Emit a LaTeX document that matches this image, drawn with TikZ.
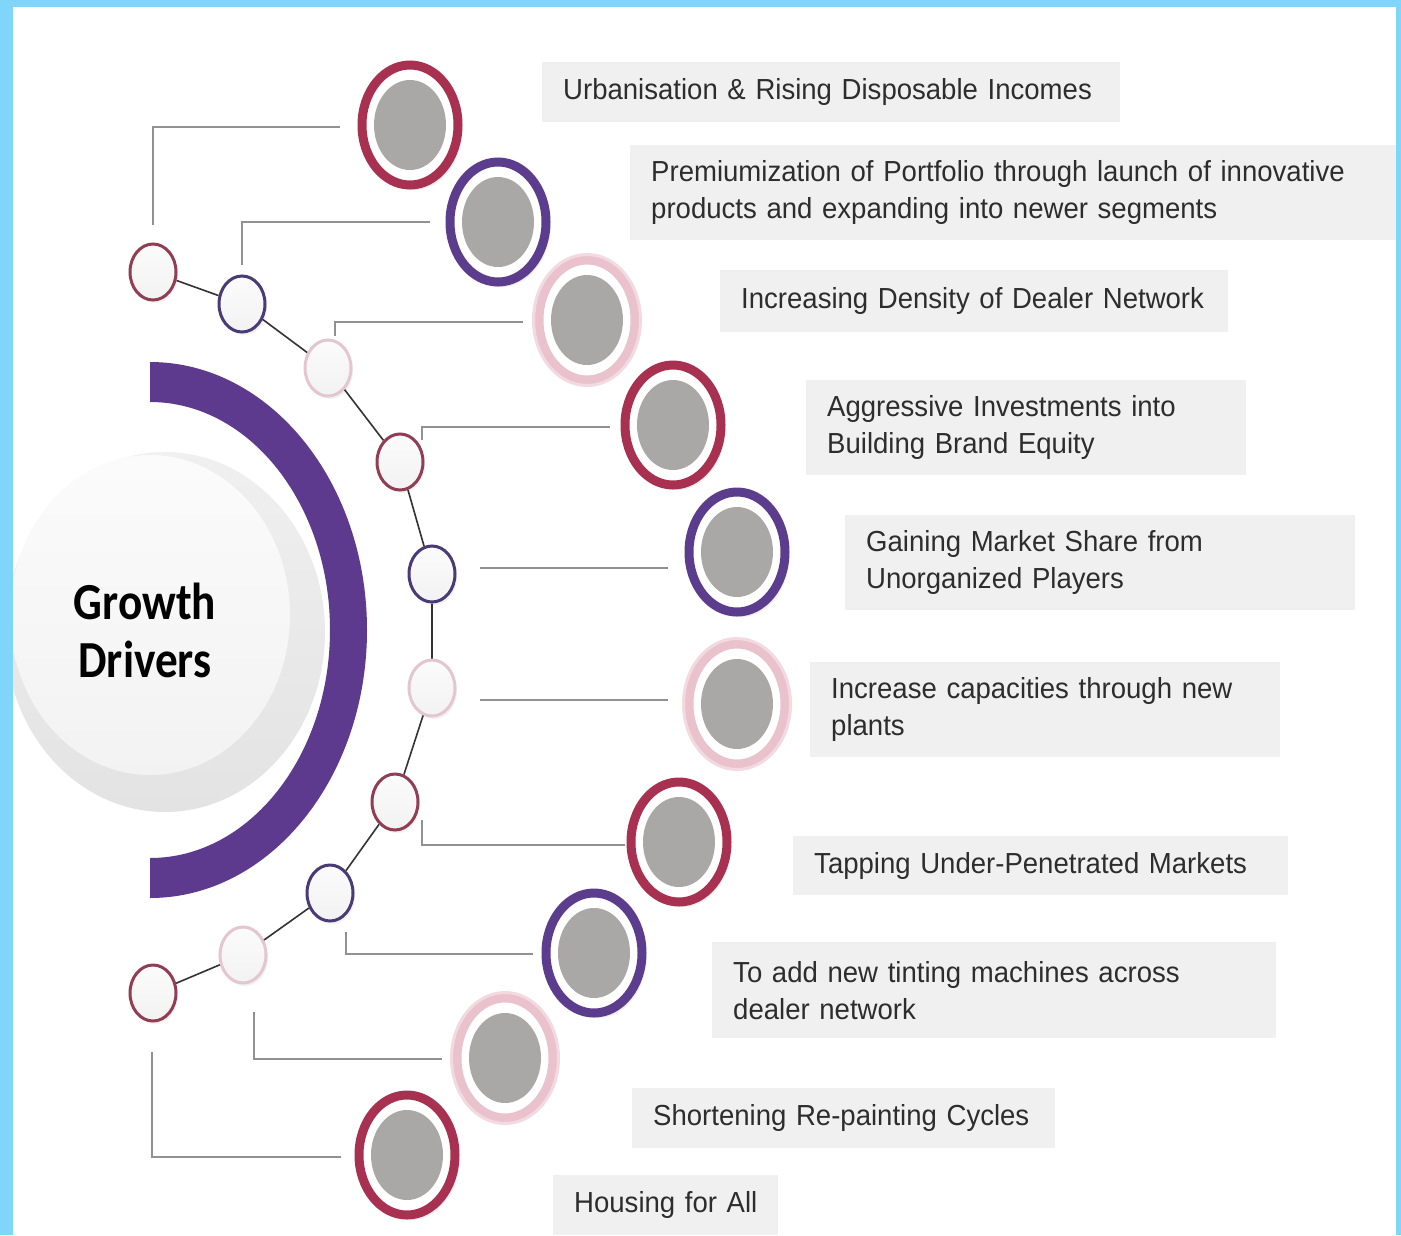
\documentclass[tikz,border=0pt]{standalone}
\usepackage{fontspec}
\setmainfont{Liberation Sans}[FakeStretch=0.95]
\newfontfamily\headfont{Carlito}[FakeStretch=0.87]
\usetikzlibrary{shapes.geometric,shadows}

\definecolor{frameblue}{RGB}{128,214,250}
\definecolor{arcpurple}{RGB}{94,58,142}
\definecolor{ringred}{RGB}{168,48,80}
\definecolor{ringpurple}{RGB}{92,60,140}
\definecolor{ringpink}{RGB}{234,194,206}
\definecolor{dotred}{RGB}{145,62,84}
\definecolor{dotpurple}{RGB}{74,58,118}
\definecolor{dotpink}{RGB}{228,198,208}
\definecolor{discgray}{RGB}{170,168,166}
\definecolor{boxgray}{RGB}{240,240,240}
\definecolor{leadgray}{RGB}{145,145,145}
\definecolor{inkgray}{RGB}{45,45,45}

\begin{document}
\begin{tikzpicture}[x=1pt, y=-1pt,
  bigdot/.style={ellipse, draw=#1, line width=9pt, fill=white, minimum width=96pt, minimum height=120pt, inner sep=0pt,
    drop shadow={opacity=0.12, shadow xshift=4pt, shadow yshift=-5pt}},
  smalldot/.style={ellipse, draw=#1, line width=3pt, top color=gray!3, bottom color=gray!10, minimum width=46pt, minimum height=56pt, inner sep=0pt,
    drop shadow={opacity=0.10, shadow xshift=2pt, shadow yshift=-3pt}},
  leadline/.style={draw=leadgray, line width=2pt},
  linkline/.style={draw=black!80, line width=1.6pt},
  tbox/.style={fill=boxgray, anchor=north west, align=left, inner xsep=21pt, inner ysep=0pt, text width=#1,
    text=inkgray, font=\fontsize{29}{37}\selectfont}]

% frame
\fill[frameblue] (0,0) rectangle (1401,1235);
\fill[white] (13,7) rectangle (1396,1235);

% hub disc
\begin{scope}
\clip (13,7) rectangle (1396,1235);
\shade[top color=gray!12, bottom color=gray!22] (165,632) ellipse [x radius=160, y radius=180];
\shade[top color=gray!3, bottom color=gray!10] (150,615) ellipse [x radius=140, y radius=160];
\end{scope}

% purple half ring
\begin{scope}
\clip (150,300) rectangle (420,960);
\fill[arcpurple, even odd rule] (150,630) ellipse [x radius=217, y radius=268]
  (150,630) ellipse [x radius=180, y radius=228];
\end{scope}

\node[font=\headfont\bfseries\fontsize{52}{58}\selectfont, align=center, text=black] (core) at (145,630) {Growth\\Drivers};

% small dots on the chain
\foreach \n/\x/\y/\c in {1/153/272/dotred, 2/242/304/dotpurple, 3/328/368/dotpink, 4/400/462/dotred,
  5/432/574/dotpurple, 6/432/688/dotpink, 7/395/802/dotred, 8/330/893/dotpurple, 9/243/955/dotpink, 10/153/993/dotred}
  \node[smalldot=\c] (s\n) at (\x,\y) {};

\draw[linkline] (s1) -- (s2) -- (s3) -- (s4) -- (s5) -- (s6) -- (s7) -- (s8) -- (s9) -- (s10);

% big dots
\foreach \n/\x/\y/\c in {1/410/125/ringred, 2/498/222/ringpurple, 3/587/320/ringpink, 4/673/425/ringred,
  5/737/552/ringpurple, 6/737/704/ringpink, 7/679/842/ringred, 8/594/953/ringpurple, 9/505/1058/ringpink, 10/407/1155/ringred}
{
  \node[bigdot=\c] (b\n) at (\x,\y) {};
  \fill[discgray] (b\n) ellipse [x radius=36, y radius=45];
}
\foreach \n in {3,6,9}
  \draw[ringpink!60, line width=3pt] (b\n) ellipse [x radius=53.5, y radius=65.5];

% leads
\draw[leadline] ([xshift=-17.5pt, yshift=-2pt]b1.west) -| ([yshift=17.5pt]s1.north);
\draw[leadline] ([xshift=-15.5pt]b2.west) -| ([yshift=9.5pt]s2.north);
\draw[leadline] ([xshift=-11.5pt, yshift=-2pt]b3.west) -| ([xshift=7pt, yshift=2.5pt]s3.north);
\draw[leadline] ([xshift=-10.5pt, yshift=-2pt]b4.west) -| ([xshift=22pt, yshift=-7.5pt]s4.north);
\draw[leadline] ([xshift=23.5pt, yshift=6pt]s5.east) -- ([xshift=-16.5pt, yshift=-16pt]b5.west);
\draw[leadline] ([xshift=23.5pt, yshift=-12pt]s6.east) -- ([xshift=-16.5pt, yshift=4pt]b6.west);
\draw[leadline] ([xshift=27pt, yshift=11.5pt]s7.south) |- ([xshift=-1.5pt, yshift=-3pt]b7.west);
\draw[leadline] ([xshift=16pt, yshift=-9.5pt]s8.south) |- ([xshift=-8.5pt, yshift=-1pt]b8.west);
\draw[leadline] ([xshift=11pt, yshift=-27.5pt]s9.south) |- ([xshift=-10.5pt, yshift=-1pt]b9.west);
\draw[leadline] ([xshift=-1pt, yshift=-29.5pt]s10.south) |- ([xshift=-13.5pt, yshift=-2pt]b10.west);

% text boxes
\node[tbox=536pt, minimum height=60pt] (t1) at (542,62) {\mbox{Urbanisation \& Rising Disposable Incomes}};
\node[tbox=724pt, minimum height=95pt] (t2) at (630,145) {\mbox{Premiumization of Portfolio through launch of innovative}\\\mbox{products and expanding into newer segments}};
\node[tbox=466pt, minimum height=62pt] (t3) at (720,270) {\mbox{Increasing Density of Dealer Network}};
\node[tbox=398pt, minimum height=95pt] (t4) at (806,380) {\mbox{Aggressive Investments into}\\\mbox{Building Brand Equity}};
\node[tbox=468pt, minimum height=95pt] (t5) at (845,515) {\mbox{Gaining Market Share from}\\\mbox{Unorganized Players}};
\node[tbox=428pt, minimum height=95pt] (t6) at (810,662) {\mbox{Increase capacities through new}\\\mbox{plants}};
\node[tbox=453pt, minimum height=59pt] (t7) at (793,836) {\mbox{Tapping Under-Penetrated Markets}};
\node[tbox=522pt, minimum height=96pt] (t8) at (712,942) {\mbox{To add new tinting machines across}\\\mbox{dealer network}};
\node[tbox=381pt, minimum height=60pt] (t9) at (632,1088) {\mbox{Shortening Re-painting Cycles}};
\node[tbox=183pt, minimum height=60pt] (t10) at (553,1175) {\mbox{Housing for All}};

\end{tikzpicture}
\end{document}
